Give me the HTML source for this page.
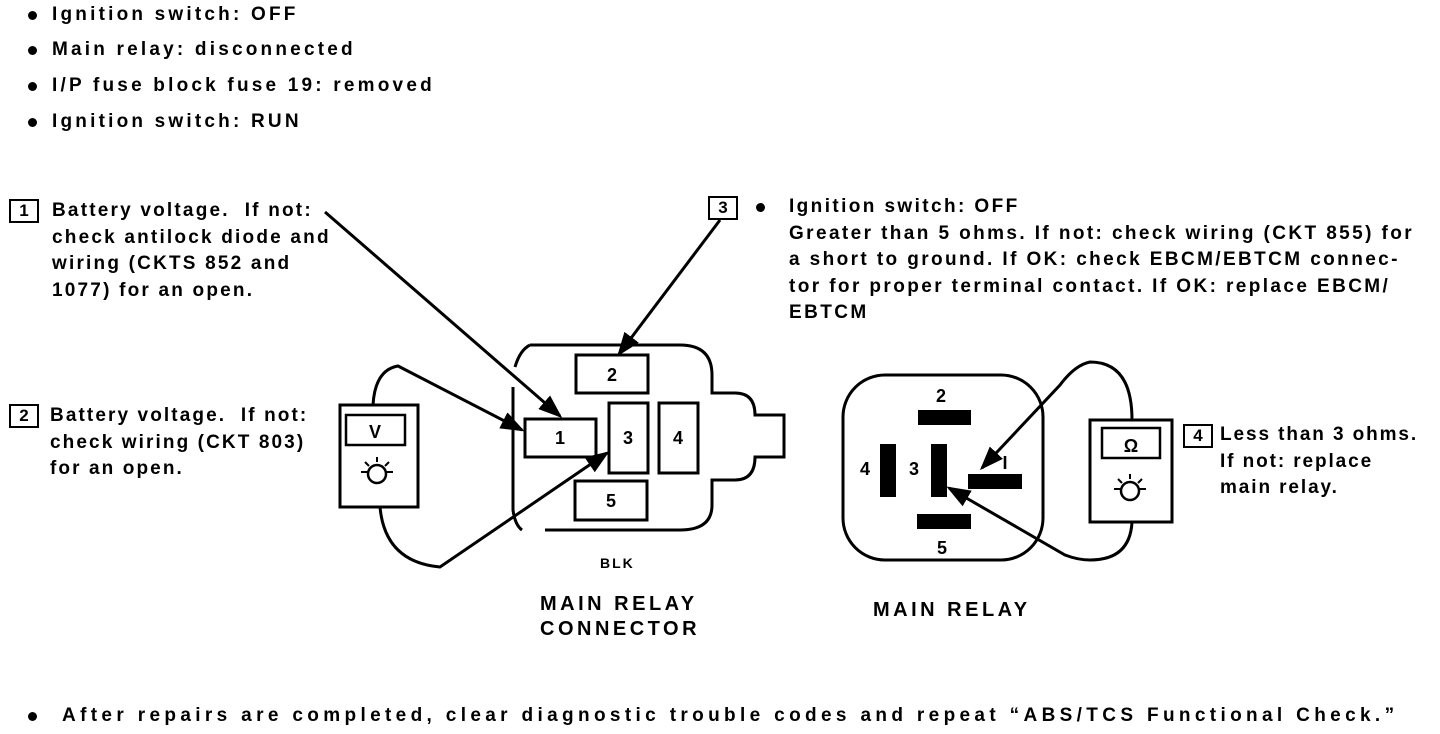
<!DOCTYPE html>
<html><head><meta charset="utf-8"><style>
body{margin:0;width:1440px;height:734px;background:#fff;position:relative;overflow:hidden;font-family:"Liberation Sans",Arial,sans-serif;font-weight:bold;color:#000}
.t{position:absolute;font-size:19px;line-height:26.5px;white-space:nowrap;letter-spacing:1.9px}
.b{position:absolute;width:26px;height:20px;border:2px solid #000;font-size:17px;line-height:20px;text-align:center}
.dot{position:absolute;width:9px;height:9px;border-radius:50%;background:#000}
svg{position:absolute;left:0;top:0}
</style></head><body>
<div class="dot" style="left:28px;top:11px"></div><div class="t" style="left:52px;top:2px;letter-spacing:3.2px">Ignition switch: OFF</div>
<div class="dot" style="left:28px;top:46px"></div><div class="t" style="left:52px;top:37px;letter-spacing:3.2px">Main relay: disconnected</div>
<div class="dot" style="left:28px;top:82px"></div><div class="t" style="left:52px;top:73px;letter-spacing:3.2px">I/P fuse block fuse 19: removed</div>
<div class="dot" style="left:28px;top:118px"></div><div class="t" style="left:52px;top:109px;letter-spacing:3.2px">Ignition switch: RUN</div>

<div class="b" style="left:9px;top:199px">1</div>
<div class="t" style="left:52px;top:198px;letter-spacing:2.2px">Battery voltage.&nbsp; If not:<br>check antilock diode and<br>wiring (CKTS 852 and<br>1077) for an open.</div>

<div class="b" style="left:9px;top:404px">2</div>
<div class="t" style="left:50px;top:403px;letter-spacing:2.1px">Battery voltage.&nbsp; If not:<br>check wiring (CKT 803)<br>for an open.</div>

<div class="b" style="left:708px;top:196px">3</div>
<div class="dot" style="left:756px;top:203px"></div>
<div class="t" style="left:789px;top:194px;letter-spacing:2.4px">Ignition switch: OFF<br>Greater than 5 ohms. If not: check wiring (CKT 855) for<br>a short to ground. If OK: check EBCM/EBTCM connec-<br>tor for proper terminal contact. If OK: replace EBCM/<br>EBTCM</div>

<div class="b" style="left:1183px;top:424px">4</div>
<div class="t" style="left:1220px;top:422px">Less than 3 ohms.<br>If not: replace<br>main relay.</div>

<div class="t" style="left:600px;top:550px;font-size:14px;letter-spacing:2px">BLK</div>
<div class="t" style="left:540px;top:592px;font-size:20px;line-height:25px;letter-spacing:3.5px">MAIN RELAY<br>CONNECTOR</div>
<div class="t" style="left:873px;top:597px;font-size:20px;letter-spacing:3.5px">MAIN RELAY</div>

<div class="dot" style="left:28px;top:712px"></div>
<div class="t" style="left:62px;top:703px;letter-spacing:4.35px">After repairs are completed, clear diagnostic trouble codes and repeat “ABS/TCS Functional Check.”</div>

<svg width="1440" height="734" viewBox="0 0 1440 734">
<defs><marker id="a" markerWidth="8" markerHeight="6" refX="7" refY="3" orient="auto" markerUnits="strokeWidth"><path d="M0,0L8,3L0,6z" fill="#000"/></marker></defs>
<g fill="none" stroke="#000" stroke-width="3">
<path d="M530,345 H680 Q712,345 712,375 V393 H735 Q755,393 755,415 H784 V457 H755 Q755,480 735,480 H712 V505 Q712,530 680,530 H545"/>
<path d="M513,387 V510 Q515,525 522,530"/>
<path d="M515,367 Q520,350 530,345"/>
<rect x="576" y="355" width="72" height="38"/>
<rect x="525" y="419" width="71" height="38"/>
<rect x="609" y="403" width="39" height="70"/>
<rect x="659" y="403" width="39" height="70"/>
<rect x="575" y="481" width="72" height="39"/>
<rect x="340" y="405" width="78" height="102"/>
<rect x="346" y="415" width="59" height="30" stroke-width="2.5"/>
<circle cx="377" cy="474" r="9" stroke-width="2.5"/>
<path d="M377,457V462M361,472H368M386,472H393M365,462L369,466M389,462L385,466" stroke-width="2"/>
<path d="M373,405 Q375,370 398,366 L522,430" marker-end="url(#a)"/>
<path d="M380,507 Q385,562 440,567 L607,453" marker-end="url(#a)"/>
<path d="M325,212 L560,416" marker-end="url(#a)"/>
<path d="M720,220 L619,354" marker-end="url(#a)"/>
<rect x="843" y="375" width="200" height="185" rx="42"/>
<rect x="1090" y="420" width="82" height="102"/>
<rect x="1102" y="428" width="58" height="30" stroke-width="2.5"/>
<circle cx="1130" cy="491" r="9" stroke-width="2.5"/>
<path d="M1130,474V479M1114,489H1121M1139,489H1146M1118,479L1122,483M1142,479L1138,483" stroke-width="2"/>
<path d="M1132,420 Q1132,362 1090,362 Q1075,365 1060,385 L982,468" marker-end="url(#a)"/>
<path d="M1132,522 Q1130,560 1090,560 Q1078,560 1065,555 L949,488" marker-end="url(#a)"/>
</g>
<g fill="#000">
<rect x="918" y="410" width="53" height="15"/>
<rect x="880" y="444" width="16" height="53"/>
<rect x="931" y="444" width="16" height="53"/>
<rect x="968" y="474" width="54" height="15"/>
<rect x="917" y="514" width="54" height="15"/>
</g>
<g font-family="Liberation Sans,Arial,sans-serif" font-weight="bold" font-size="18" text-anchor="middle">
<text x="612" y="381">2</text><text x="560" y="444">1</text><text x="628" y="444">3</text><text x="678" y="444">4</text><text x="611" y="507">5</text>
<text x="941" y="402">2</text><text x="865" y="475">4</text><text x="914" y="475">3</text><text x="1005" y="469">I</text><text x="942" y="554">5</text>
<text x="375" y="438">V</text><text x="1131" y="452">Ω</text>
</g>
</svg>
</body></html>
